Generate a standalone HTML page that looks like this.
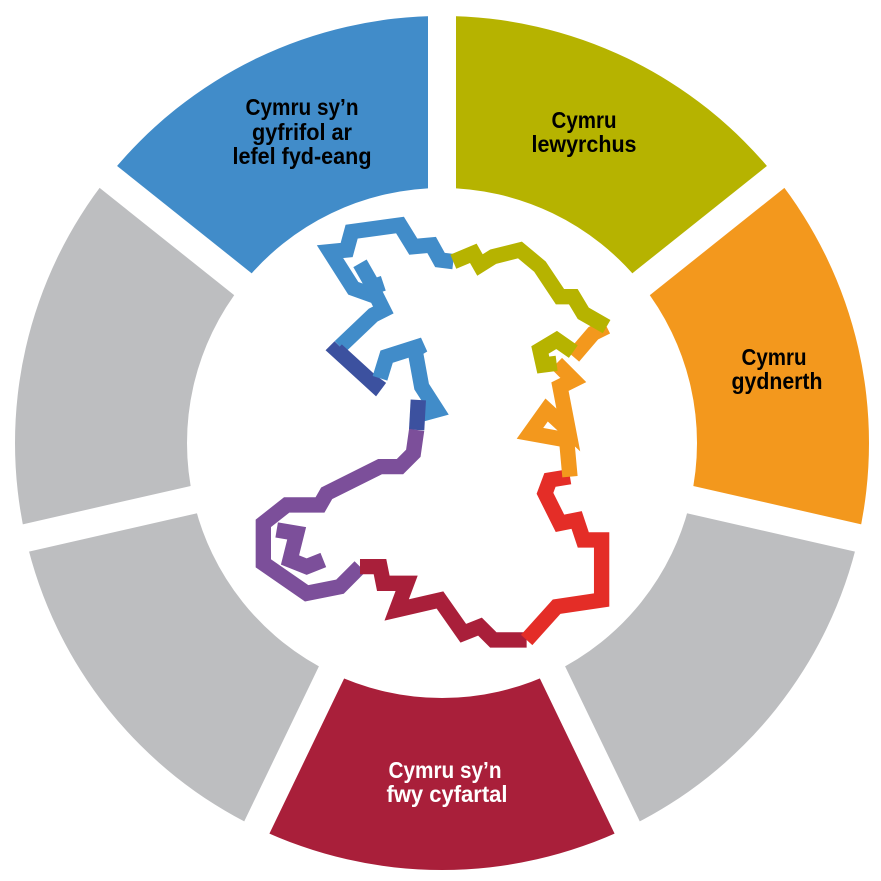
<!DOCTYPE html>
<html><head><meta charset="utf-8"><style>
html,body{margin:0;padding:0;background:#fff;width:881px;height:881px;overflow:hidden}
svg{display:block}
text{font-family:"Liberation Sans Narrow","Liberation Sans",sans-serif;font-weight:bold;font-size:23px;text-anchor:middle}
</style></head><body>
<svg width="881" height="881" viewBox="0 0 881 881" xmlns="http://www.w3.org/2000/svg">
<rect width="881" height="881" fill="#fff"/>
<g id="ring"></g>
<g transform="translate(240,200) scale(0.3333)" fill="none" stroke-width="46" stroke-linejoin="miter" stroke-linecap="butt">
<polyline stroke="#418CC9" points="640,185 600,180 575,135 520,140 480,75 335,95 320,150 270,155 340,265 410,290 430,330 400,345 300,440"/>
<polyline stroke="#418CC9" points="360,190 400,260 430,250"/>
<polyline stroke="#3C519F" points="300,440 290,450 405,555 420,535"/>
<polyline stroke="#418CC9" points="420,535 440,470 550,435 525,450 545,560 590,630 535,645"/>
<polyline stroke="#3C519F" points="535,600 530,690"/>
<polyline stroke="#7C4F9A" points="530,690 520,760 480,800 420,800 260,880 240,915 140,915 70,970 70,1090 200,1180 300,1160 360,1100"/>
<polyline stroke="#7C4F9A" points="110,990 170,1000 150,1080 200,1100 250,1080"/>
<polyline stroke="#A91F3A" points="360,1100 420,1100 430,1150 500,1150 470,1230 600,1200 670,1300 720,1280 760,1320 860,1320"/>
<polyline stroke="#E42D27" points="860,1320 950,1220 1085,1200 1085,1020 1030,1020 1010,960 960,970 915,880 930,840 990,830"/>
<polyline stroke="#F3981D" points="990,830 980,720 870,700 920,630 985,690 960,560 1000,540 950,490"/>
<polyline stroke="#F3981D" points="1000,470 1060,400 1100,380"/>
<polyline stroke="#B6B300" points="950,490 910,495 900,450 950,420 1000,455"/>
<polyline stroke="#B6B300" points="1100,380 1030,340 1000,290 960,290 900,200 840,150 760,170 720,195 700,160 640,185"/>
</g>
<g>
<text x="302" y="115" textLength="113" lengthAdjust="spacingAndGlyphs">Cymru sy’n</text>
<text x="302" y="140" textLength="100" lengthAdjust="spacingAndGlyphs">gyfrifol ar</text>
<text x="302" y="164" textLength="139" lengthAdjust="spacingAndGlyphs">lefel fyd-eang</text>
<text x="584" y="128" textLength="65" lengthAdjust="spacingAndGlyphs">Cymru</text>
<text x="584" y="152" textLength="105" lengthAdjust="spacingAndGlyphs">lewyrchus</text>
<text x="774" y="365" textLength="65" lengthAdjust="spacingAndGlyphs">Cymru</text>
<text x="777" y="389" textLength="91" lengthAdjust="spacingAndGlyphs">gydnerth</text>
<text x="445" y="778" fill="#fff" textLength="113" lengthAdjust="spacingAndGlyphs">Cymru sy’n</text>
<text x="447" y="802" fill="#fff" textLength="121" lengthAdjust="spacingAndGlyphs">fwy cyfartal</text>
</g>
<script>
(function(){
var cx=442,cy=443,R=427,r=255,g=document.getElementById('ring');
var cols=['#B6B300','#F3981D','#BDBEC0','#A91F3A','#BDBEC0','#BDBEC0','#418CC9'];
var ns='http://www.w3.org/2000/svg';
function pt(rad,a){return [cx+rad*Math.sin(a),cy-rad*Math.cos(a)];}
var step=2*Math.PI/7;
for(var i=0;i<7;i++){
 var a=i*step,b=(i+1)*step;
 var p1=pt(R,a),p2=pt(R,b),p3=pt(r,b),p4=pt(r,a);
 var d='M'+p1+' A'+R+','+R+' 0 0 1 '+p2+' L'+p3+' A'+r+','+r+' 0 0 0 '+p4+'Z';
 var p=document.createElementNS(ns,'path');p.setAttribute('d',d);p.setAttribute('fill',cols[i]);g.appendChild(p);
}
for(var i=0;i<7;i++){
 var a=i*step,q=pt(R+10,a);
 var l=document.createElementNS(ns,'line');
 l.setAttribute('x1',cx);l.setAttribute('y1',cy);l.setAttribute('x2',q[0]);l.setAttribute('y2',q[1]);
 l.setAttribute('stroke','#fff');l.setAttribute('stroke-width','28');g.appendChild(l);
}
})();
</script>
</svg>
</body></html>
